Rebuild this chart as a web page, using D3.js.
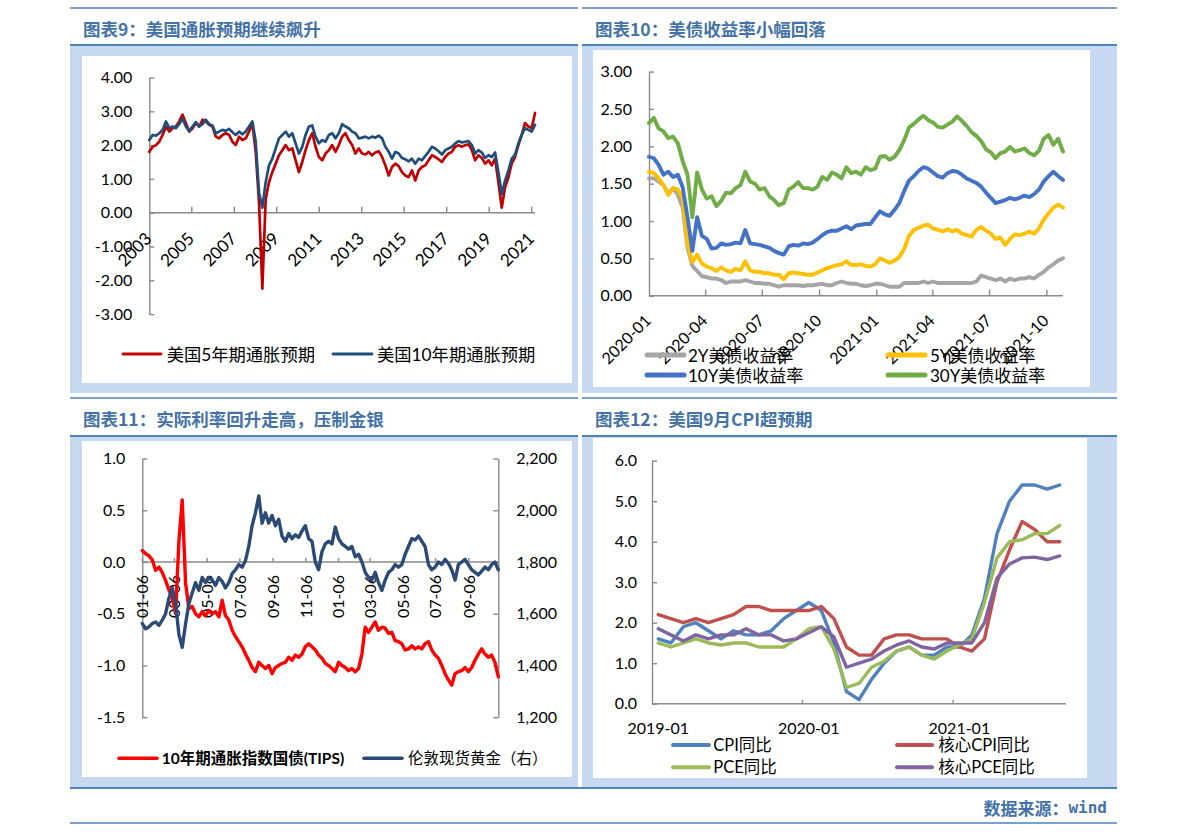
<!DOCTYPE html>
<html><head><meta charset="utf-8">
<script src="https://cdn.jsdelivr.net/npm/d3@7"></script>
<style>
body{margin:0;background:#fff;}
svg{display:block;}
</style></head><body>
<svg id="c" width="1191" height="836"></svg>
<script>
// ---------------- DATA ----------------
// Panel 9: breakeven inflation (equally spaced samples, 2003 -> 2021)
const p1Years = ["2003","2005","2007","2009","2011","2013","2015","2017","2019","2021"];
const infl10y = [2.15,2.30,2.28,2.35,2.45,2.70,2.50,2.55,2.50,2.62,
 2.78,2.55,2.42,2.55,2.68,2.55,2.62,2.75,2.62,2.58,
 2.35,2.40,2.45,2.42,2.48,2.38,2.30,2.40,2.32,2.40,
 2.55,2.70,2.10,0.60,0.15,0.90,1.40,1.60,1.90,2.20,
 2.30,2.40,2.25,2.35,2.05,1.75,1.95,2.30,2.55,2.58,
 2.25,2.05,2.15,2.10,2.30,2.35,2.20,2.35,2.62,2.55,
 2.50,2.40,2.35,2.20,2.22,2.25,2.20,2.25,2.22,2.28,
 2.20,1.95,1.80,1.60,1.80,1.75,1.62,1.58,1.52,1.60,
 1.45,1.60,1.55,1.68,1.80,1.95,1.90,1.82,1.72,1.85,
 1.90,1.95,2.05,2.12,2.08,2.10,2.12,2.00,1.75,1.85,
 1.78,1.62,1.70,1.65,1.78,1.20,0.55,0.95,1.25,1.60,
 1.72,2.05,2.30,2.50,2.45,2.40,2.60];
const infl5y = [1.80,1.95,2.00,2.10,2.30,2.55,2.40,2.50,2.55,2.70,
 2.90,2.65,2.40,2.50,2.65,2.55,2.75,2.70,2.60,2.55,
 2.25,2.20,2.30,2.35,2.30,2.10,2.00,2.25,2.15,2.20,
 2.40,2.65,1.80,0.30,-2.25,0.40,0.90,1.20,1.45,1.70,
 1.85,2.00,1.85,1.90,1.55,1.20,1.50,1.85,2.15,2.35,
 1.95,1.65,1.55,1.75,1.85,2.00,1.80,2.00,2.25,2.35,
 2.15,2.00,1.75,1.90,1.75,1.72,1.80,1.70,1.78,1.82,
 1.65,1.40,1.10,1.35,1.45,1.38,1.20,1.10,1.05,1.25,
 0.95,1.25,1.35,1.40,1.55,1.70,1.65,1.58,1.50,1.65,
 1.75,1.80,1.95,2.00,1.95,2.00,2.02,1.85,1.55,1.70,
 1.62,1.45,1.55,1.40,1.60,0.90,0.15,0.75,1.05,1.45,
 1.65,2.00,2.30,2.65,2.55,2.50,2.95];

// Panel 10: treasury yields, ~weekly samples 2020-01-01 -> 2021-10-27
const p2Start = "2020-01-01", p2End = "2021-10-27";
const p2Ticks = ["2020-01","2020-04","2020-07","2020-10","2021-01","2021-04","2021-07","2021-10"];
const yld2 = [1.57,1.57,1.53,1.48,1.37,1.44,1.35,1.18,0.65,0.40,
 0.33,0.26,0.25,0.23,0.23,0.21,0.17,0.19,0.19,0.19,
 0.21,0.19,0.17,0.17,0.16,0.16,0.14,0.12,0.14,0.14,
 0.14,0.14,0.13,0.14,0.14,0.15,0.16,0.14,0.14,0.17,
 0.19,0.17,0.16,0.16,0.14,0.13,0.14,0.16,0.16,0.14,
 0.12,0.12,0.12,0.17,0.17,0.17,0.17,0.19,0.17,0.19,
 0.17,0.17,0.17,0.17,0.17,0.17,0.17,0.17,0.19,0.27,
 0.25,0.23,0.21,0.23,0.19,0.23,0.21,0.23,0.23,0.25,
 0.23,0.28,0.32,0.38,0.42,0.47,0.50];
const yld5 = [1.66,1.64,1.57,1.48,1.35,1.44,1.42,1.30,0.70,0.45,
 0.55,0.43,0.39,0.37,0.33,0.38,0.34,0.32,0.36,0.34,
 0.46,0.34,0.32,0.32,0.30,0.30,0.28,0.28,0.22,0.30,
 0.31,0.30,0.29,0.28,0.28,0.31,0.34,0.37,0.39,0.41,
 0.42,0.46,0.41,0.41,0.42,0.40,0.39,0.42,0.50,0.47,
 0.44,0.47,0.52,0.62,0.80,0.88,0.91,0.94,0.95,0.90,
 0.88,0.86,0.89,0.86,0.88,0.83,0.81,0.79,0.88,0.92,
 0.87,0.83,0.76,0.78,0.68,0.76,0.82,0.81,0.83,0.86,
 0.83,0.90,1.02,1.10,1.18,1.22,1.18];
const yld10 = [1.86,1.84,1.75,1.62,1.66,1.59,1.62,1.45,1.05,0.60,
 1.05,0.80,0.76,0.63,0.64,0.70,0.68,0.69,0.71,0.70,
 0.88,0.70,0.69,0.68,0.66,0.64,0.60,0.57,0.55,0.66,
 0.68,0.67,0.70,0.69,0.71,0.76,0.81,0.85,0.87,0.87,
 0.90,0.93,0.89,0.94,0.95,0.96,0.96,1.05,1.13,1.09,
 1.07,1.15,1.24,1.40,1.54,1.60,1.67,1.72,1.70,1.65,
 1.60,1.58,1.64,1.67,1.66,1.62,1.57,1.54,1.51,1.46,
 1.38,1.31,1.24,1.26,1.28,1.31,1.29,1.31,1.34,1.32,
 1.36,1.42,1.53,1.60,1.66,1.60,1.55];
const yld30 = [2.31,2.38,2.24,2.20,2.11,2.13,2.04,1.80,1.62,1.05,
 1.65,1.42,1.30,1.33,1.20,1.27,1.38,1.37,1.44,1.48,
 1.66,1.53,1.50,1.42,1.44,1.33,1.28,1.21,1.24,1.42,
 1.46,1.52,1.44,1.44,1.42,1.46,1.59,1.55,1.65,1.62,
 1.57,1.72,1.64,1.66,1.62,1.72,1.68,1.70,1.86,1.87,
 1.82,1.86,1.95,2.08,2.25,2.30,2.36,2.41,2.35,2.32,
 2.26,2.25,2.29,2.33,2.40,2.34,2.27,2.19,2.14,2.07,
 1.96,1.92,1.84,1.91,1.93,1.99,1.93,1.95,1.97,1.91,
 1.88,1.94,2.10,2.15,2.02,2.10,1.93];

// Panel 11: TIPS real yield & London gold, ~6-day samples 2020-01-06 -> 2021-10-31
const p3Start = "2020-01-06", p3End = "2021-10-31";
const p3TickDates = ["2020-01-06","2020-03-06","2020-05-06","2020-07-06","2020-09-06","2020-11-06",
 "2021-01-06","2021-03-06","2021-05-06","2021-07-06","2021-09-06"];
const tips = [0.11,0.08,0.06,0.02,-0.08,-0.05,-0.10,-0.18,-0.27,-0.35,
 -0.50,0.20,0.60,-0.20,-0.45,-0.43,-0.50,-0.53,-0.48,-0.52,
 -0.47,-0.50,-0.48,-0.53,-0.37,-0.52,-0.56,-0.66,-0.72,-0.77,
 -0.82,-0.89,-0.95,-1.02,-1.06,-0.97,-1.00,-1.03,-1.00,-1.08,
 -1.02,-1.00,-0.98,-0.97,-0.92,-0.95,-0.90,-0.92,-0.89,-0.82,
 -0.79,-0.82,-0.85,-0.90,-0.93,-0.98,-1.00,-1.03,-1.06,-0.97,
 -1.00,-1.02,-1.05,-1.03,-1.06,-1.03,-0.89,-0.63,-0.68,-0.63,
 -0.58,-0.66,-0.63,-0.64,-0.69,-0.68,-0.76,-0.77,-0.79,-0.85,
 -0.84,-0.81,-0.84,-0.82,-0.84,-0.79,-0.77,-0.85,-0.90,-0.93,
 -1.00,-1.08,-1.14,-1.19,-1.08,-1.06,-1.05,-1.02,-1.06,-1.02,
 -0.95,-0.89,-0.84,-0.89,-0.92,-0.90,-0.97,-1.11];
const gold = [1562,1542,1549,1562,1568,1555,1575,1600,1660,1700,
 1640,1520,1470,1560,1640,1680,1720,1690,1740,1720,
 1740,1730,1710,1740,1725,1700,1720,1755,1770,1790,
 1780,1805,1860,1940,1990,2055,1950,1990,1950,1980,
 1940,1965,1900,1880,1910,1890,1905,1895,1920,1940,
 1890,1880,1800,1770,1840,1870,1880,1870,1935,1890,
 1870,1860,1850,1860,1820,1830,1800,1760,1740,1730,
 1760,1720,1690,1730,1760,1770,1790,1780,1790,1830,
 1860,1890,1885,1900,1880,1860,1790,1770,1780,1800,
 1790,1810,1795,1770,1730,1790,1800,1810,1790,1770,
 1760,1750,1765,1780,1770,1790,1800,1770];

// Panel 12: monthly CPI / PCE
const months4 = ["2019-01","2019-02","2019-03","2019-04","2019-05","2019-06","2019-07","2019-08","2019-09","2019-10","2019-11","2019-12",
 "2020-01","2020-02","2020-03","2020-04","2020-05","2020-06","2020-07","2020-08","2020-09","2020-10","2020-11","2020-12",
 "2021-01","2021-02","2021-03","2021-04","2021-05","2021-06","2021-07","2021-08","2021-09"];
const p4Ticks = ["2019-01","2020-01","2021-01"];
const cpi = [1.6,1.5,1.9,2.0,1.8,1.6,1.8,1.7,1.7,1.8,2.1,2.3, 2.5,2.3,1.5,0.3,0.1,0.6,1.0,1.3,1.4,1.2,1.2,1.4, 1.4,1.7,2.6,4.2,5.0,5.4,5.4,5.3,5.4];
const coreCpi = [2.2,2.1,2.0,2.1,2.0,2.1,2.2,2.4,2.4,2.3,2.3,2.3, 2.3,2.4,2.1,1.4,1.2,1.2,1.6,1.7,1.7,1.6,1.6,1.6, 1.4,1.3,1.6,3.0,3.8,4.5,4.3,4.0,4.0];
const pce = [1.5,1.4,1.5,1.6,1.5,1.45,1.5,1.5,1.4,1.4,1.4,1.6, 1.85,1.9,1.35,0.4,0.5,0.9,1.05,1.3,1.4,1.2,1.1,1.3, 1.45,1.6,2.5,3.6,4.0,4.05,4.2,4.2,4.4];
const corePce = [1.85,1.7,1.55,1.7,1.6,1.7,1.7,1.85,1.7,1.7,1.55,1.6, 1.75,1.9,1.65,0.9,1.0,1.1,1.3,1.45,1.55,1.4,1.35,1.5, 1.5,1.5,2.0,3.1,3.45,3.6,3.62,3.56,3.65];

// ---------------- DRAW ----------------
const FONT = 'Lato, "Noto Sans CJK SC", sans-serif';
const CJK = '"Noto Sans CJK SC", sans-serif';
const BG = "#c6d9f0", RULE = "#4f81bd", TITLE = "#4472a8", AX = "#8a8a8a";
const svg = d3.select("#c").attr("font-family", FONT);
const parse = d3.timeParse("%Y-%m-%d");

// frames
function frame(x0, x1, topY, title, subY, bandY1, white) {
  svg.append("line").attr("x1", x0).attr("x2", x1).attr("y1", topY).attr("y2", topY)
    .attr("stroke", RULE).attr("stroke-width", 1.5);
  svg.append("text").attr("x", x0 + 13).attr("y", topY + 20).attr("dominant-baseline", "central")
    .attr("font-family", CJK).attr("font-weight", "bold").attr("font-size", 17.5)
    .attr("fill", TITLE).text(title);
  svg.append("line").attr("x1", x0).attr("x2", x1).attr("y1", subY).attr("y2", subY)
    .attr("stroke", RULE).attr("stroke-width", 2.2);
  svg.append("rect").attr("x", x0).attr("y", subY + 1).attr("width", x1 - x0).attr("height", bandY1 - subY - 1)
    .attr("fill", BG);
  svg.append("rect").attr("x", white[0]).attr("y", white[1]).attr("width", white[2] - white[0])
    .attr("height", white[3] - white[1]).attr("fill", "#fff");
}
frame(70, 578, 8, "图表9：美国通胀预期继续飙升", 45, 393, [82, 56, 572, 383]);
frame(582, 1117, 8, "图表10：美债收益率小幅回落", 45, 393, [593, 50, 1090, 387]);
frame(70, 578, 398, "图表11：实际利率回升走高，压制金银", 436, 787, [82, 441, 572, 777]);
frame(582, 1117, 398, "图表12：美国9月CPI超预期", 436, 787, [593, 438, 1087, 778]);
svg.append("line").attr("x1", 70).attr("x2", 1117).attr("y1", 788).attr("y2", 788)
  .attr("stroke", RULE).attr("stroke-width", 2.2);
svg.append("line").attr("x1", 70).attr("x2", 1117).attr("y1", 823).attr("y2", 823)
  .attr("stroke", RULE).attr("stroke-width", 1.5);
const foot = svg.append("text").attr("x", 1107).attr("y", 807).attr("dominant-baseline", "central")
  .attr("text-anchor", "end").attr("font-weight", "bold").attr("font-size", 17).attr("fill", TITLE)
  .attr("font-family", CJK);
foot.append("tspan").text("数据来源：");
foot.append("tspan").attr("font-family", '"DejaVu Sans Mono", monospace').attr("font-size", 16).text("wind");

// helpers
function yAxis(scale, x, values, fmt, right, pad) {
  const ax = (right ? d3.axisRight(scale) : d3.axisLeft(scale))
    .tickValues(values).tickFormat(fmt).tickSize(-5).tickSizeOuter(0).tickPadding(pad);
  const g = svg.append("g").attr("transform", `translate(${x},0)`).call(ax);
  g.attr("font-family", FONT).attr("font-size", 16);
  g.selectAll("path,line").attr("stroke", AX).attr("stroke-width", 1.4);
  g.selectAll("text").attr("fill", "#000");
  return g;
}
function xBase(x0, x1, y, tickXs, len) {
  svg.append("line").attr("x1", x0).attr("x2", x1).attr("y1", y).attr("y2", y)
    .attr("stroke", AX).attr("stroke-width", 1.4);
  svg.append("g").selectAll("line").data(tickXs).join("line")
    .attr("x1", d => d).attr("x2", d => d).attr("y1", y).attr("y2", y - len)
    .attr("stroke", AX).attr("stroke-width", 1.4);
}
function series(data, xs, ys, color, w) {
  svg.append("path").datum(data)
    .attr("d", d3.line().x((d, i) => xs(i)).y(d => ys(d)))
    .attr("fill", "none").attr("stroke", color).attr("stroke-width", w)
    .attr("stroke-linejoin", "round").attr("stroke-linecap", "round");
}
function legend(x0, x1, y, color, w, label, tx, size, bold) {
  svg.append("line").attr("x1", x0).attr("x2", x1).attr("y1", y).attr("y2", y)
    .attr("stroke", color).attr("stroke-width", w).attr("stroke-linecap", "round");
  svg.append("text").attr("x", tx).attr("y", y).attr("dominant-baseline", "central")
    .attr("font-size", size).attr("font-weight", bold ? "bold" : "normal").attr("fill", "#000").text(label);
}
const f2 = d => d.toFixed(2), f1 = d => d.toFixed(1);

// ---- Panel 9 ----
{
  const xi = d3.scaleLinear().domain([0, infl5y.length - 1]).range([149.3, 535]);
  const xy = d3.scaleLinear().domain([2003, 2021]).range([149.3, 531.7]);
  const y = d3.scaleLinear().domain([-3, 4]).range([314.1, 77.5]);
  yAxis(y, 149.3, d3.range(-3, 5), f2, false, 17);
  xBase(149.3, 535, y(0), p1Years.slice(1).map(d => xy(+d)), 6);
  svg.append("g").selectAll("text").data(p1Years).join("text")
    .attr("transform", d => `translate(${xy(+d) + 3.5},${y(0) + 27}) rotate(-45)`)
    .attr("text-anchor", "end").attr("font-size", 17).attr("fill", "#000").text(d => d);
  series(infl5y, xi, y, "#c00000", 2.7);
  series(infl10y, xi, y, "#1f4e7a", 2.7);
  legend(123, 161, 354, "#c00000", 2.8, "美国5年期通胀预期", 166.7, 17.3);
  legend(333, 372, 354, "#1f4e7a", 2.8, "美国10年期通胀预期", 377, 17.3);
}

// ---- Panel 10 ----
{
  const xi = d3.scaleLinear().domain([0, yld2.length - 1]).range([649, 1063]);
  const t = d3.scaleTime().domain([parse(p2Start), parse(p2End)]).range([649, 1063]);
  const y = d3.scaleLinear().domain([0, 3]).range([295.7, 71.6]);
  yAxis(y, 649, d3.range(0, 3.01, 0.5), f2, false, 17);
  const tx = p2Ticks.map(d => t(parse(d + "-01")));
  xBase(649, 1063, y(0), tx.slice(1), 6);
  svg.append("g").selectAll("text").data(p2Ticks).join("text")
    .attr("transform", d => `translate(${t(parse(d + "-01")) + 3},${y(0) + 26}) rotate(-45)`)
    .attr("text-anchor", "end").attr("font-size", 16).attr("fill", "#000").text(d => d);
  series(yld2, xi, y, "#a5a5a5", 3.9);
  series(yld5, xi, y, "#ffc000", 3.9);
  series(yld10, xi, y, "#4472c4", 3.9);
  series(yld30, xi, y, "#70ad47", 3.9);
  legend(647, 684, 355, "#a5a5a5", 5, "2Y美债收益率", 688, 17);
  legend(888, 925, 355, "#ffc000", 5, "5Y美债收益率", 930, 17);
  legend(647, 684, 375, "#4472c4", 5, "10Y美债收益率", 688, 17);
  legend(888, 925, 375, "#70ad47", 5, "30Y美债收益率", 930, 17);
}

// ---- Panel 11 ----
{
  const xi = d3.scaleLinear().domain([0, tips.length - 1]).range([142.3, 498.3]);
  const t = d3.scaleTime().domain([parse(p3Start), parse(p3End)]).range([142.3, 498.3]);
  const yL = d3.scaleLinear().domain([-1.5, 1.0]).range([717.2, 458.5]);
  const yR = d3.scaleLinear().domain([1200, 2200]).range([717.2, 458.5]);
  yAxis(yL, 142.3, [-1.5, -1.0, -0.5, 0.0, 0.5, 1.0], f1, false, 17);
  yAxis(yR, 498.3, d3.range(1200, 2201, 200), d3.format(","), true, 18);
  const tx = p3TickDates.map(d => t(parse(d)));
  xBase(142.3, 498.3, yL(0), tx, 4);
  svg.append("g").selectAll("text").data(p3TickDates).join("text")
    .attr("transform", d => `translate(${t(parse(d))},${yL(0) + 13}) rotate(-90)`)
    .attr("text-anchor", "end").attr("dy", "0.36em").attr("font-size", 16).attr("fill", "#000")
    .text(d => d3.timeFormat("%m-%d")(parse(d)));
  series(tips, xi, yL, "#ff0000", 3.4);
  series(gold, xi, yR, "#2b4a76", 3.4);
  legend(119, 157, 758.3, "#ff0000", 3.6, "10年期通胀指数国债(TIPS)", 161.7, 15.5, true);
  legend(364, 402, 758.3, "#2b4a76", 3.6, "伦敦现货黄金（右）", 408, 15.5);
}

// ---- Panel 12 ----
{
  const x = d3.scaleBand().domain(months4).range([652, 1066]);
  const bw = x.bandwidth();
  const xi = d3.scaleLinear().domain([0, months4.length - 1])
    .range([x(months4[0]) + bw / 2, x(months4[months4.length - 1]) + bw / 2]);
  const y = d3.scaleLinear().domain([0, 6]).range([703.7, 460.7]);
  yAxis(y, 652, d3.range(0, 6.01, 1), f1, false, 15);
  xBase(652, 1066, y(0), p4Ticks.slice(1).map(d => x(d)), 4);
  svg.append("g").selectAll("text").data(p4Ticks).join("text")
    .attr("x", d => x(d) + bw / 2).attr("y", 728).attr("dy", "0.35em")
    .attr("text-anchor", "middle").attr("font-size", 16).attr("fill", "#000").text(d => d);
  series(cpi, xi, y, "#4f81bd", 3.4);
  series(coreCpi, xi, y, "#c0504d", 3.4);
  series(pce, xi, y, "#9bbb59", 3.4);
  series(corePce, xi, y, "#8064a2", 3.4);
  legend(673, 709, 745, "#4f81bd", 4, "CPI同比", 713.3, 16.5);
  legend(897, 932, 745, "#c0504d", 4, "核心CPI同比", 938.3, 16.5);
  legend(673, 709, 767.3, "#9bbb59", 4, "PCE同比", 713.3, 16.5);
  legend(897, 932, 767.3, "#8064a2", 4, "核心PCE同比", 938.3, 16.5);
}
</script>
</body></html>
